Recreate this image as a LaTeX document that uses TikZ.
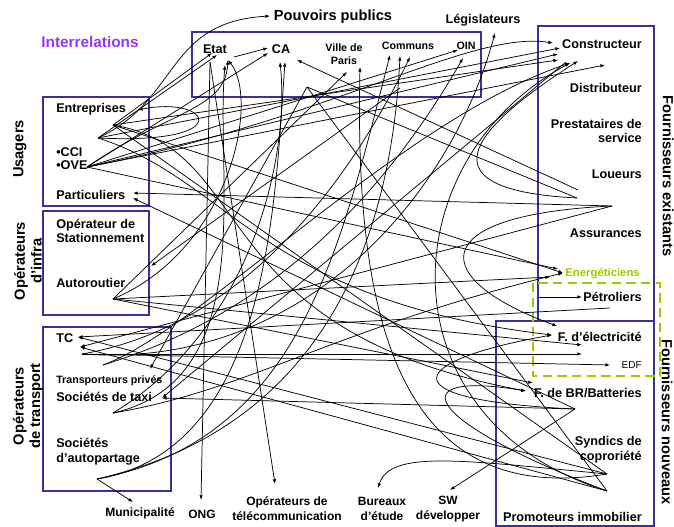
\documentclass[tikz,border=0pt]{standalone}
\usepackage{fontspec}
\setmainfont{Liberation Sans}
\usepackage{tikz}
\usetikzlibrary{arrows.meta}
\definecolor{boxblue}{RGB}{51,51,153}
\definecolor{lilac}{RGB}{153,51,255}
\definecolor{lime}{RGB}{153,204,0}
\begin{document}
\begin{tikzpicture}
[x=0.75pt,y=-0.75pt]
\tikzstyle{lab}=[font=\bfseries\fontsize{9.5}{11}\selectfont,inner sep=0]
\tikzstyle{sml}=[font=\bfseries\fontsize{8}{9.5}\selectfont,inner sep=0]
\tikzstyle{bot}=[font=\bfseries\fontsize{9}{11.2}\selectfont,inner sep=0,align=center]
\tikzstyle{grp}=[font=\bfseries\fontsize{11}{12.5}\selectfont,inner sep=0,align=center]
\tikzstyle{frame}=[draw=boxblue,line width=1.3pt]
\tikzstyle{conn}=[line width=0.55pt,-{Latex[length=3.5pt,width=2.6pt]}]
\tikzstyle{link}=[line width=0.55pt]
\useasboundingbox (0,0) rectangle (674,527);

% frames
\draw[frame] (192,32) rectangle (481,97);
\draw[frame] (43,97) rectangle (149,206);
\draw[frame] (43,211) rectangle (149,315);
\draw[frame] (43,327) rectangle (171,491);
\draw[frame] (538,26) rectangle (654,321);
\draw[frame] (496,321) rectangle (654,526);
\draw[draw=lime,line width=1.3pt,dash pattern=on 7pt off 4pt] (533,283) rectangle (660,376);

% titles
\node[grp,text=lilac,font=\bfseries\fontsize{11.5}{13}\selectfont] (inter) at (90,42) {Interrelations};
\node[grp] (pouv) at (333,17) {Pouvoirs publics};
\node[lab] (legis) at (483,20) {Législateurs};
\node[grp,rotate=90] (usag) at (20,149) {Usagers};
\node[grp,rotate=90] (infra) at (28,261) {Opérateurs\\d'infra};
\node[grp,rotate=90] (transp) at (28,406) {Opérateurs\\de transport};
\node[grp,rotate=-90] (exist) at (668,176) {Fournisseurs existants};
\node[grp,rotate=-90] (nouv) at (667,422) {Fournisseurs nouveaux};

% pouvoirs publics
\node[lab] (etat) at (215,49) {Etat};
\node[lab] (ca) at (281,49) {CA};
\node[sml,align=center] (ville) at (344,54) {Ville de\\Paris};
\node[sml] (communs) at (408,46) {Communs};
\node[sml] (oin) at (466,46) {OIN};

% usagers, infra, transport
\node[lab,anchor=west] (entr) at (56,109) {Entreprises};
\node[lab,anchor=west] (cci) at (56,152) {•CCI};
\node[lab,anchor=west] (ove) at (56,165) {•OVE};
\node[lab,anchor=west] (part) at (56,195) {Particuliers};
\node[lab,anchor=west,align=left] (stat) at (56,231) {Opérateur de\\Stationnement};
\node[lab,anchor=west] (auto) at (56,283) {Autoroutier};
\node[lab,anchor=west] (tc) at (56,338) {TC};
\node[sml,anchor=west] (trpriv) at (56,381) {Transporteurs privés};
\node[lab,anchor=west] (taxi) at (56,397) {Sociétés de taxi};
\node[lab,anchor=west,align=left] (autop) at (56,452) {Sociétés\\d'autopartage};

% fournisseurs
\node[lab,anchor=east] (constr) at (642,44) {Constructeur};
\node[lab,anchor=east] (distr) at (642,88) {Distributeur};
\node[lab,anchor=east,align=right] (prest) at (642,131) {Prestataires de\\service};
\node[lab,anchor=east] (loueurs) at (642,174) {Loueurs};
\node[lab,anchor=east] (assur) at (642,233) {Assurances};
\node[sml,anchor=east,text=lime,font=\bfseries\fontsize{8.5}{10}\selectfont] (energ) at (640,274) {Energéticiens};
\node[lab,anchor=east] (petrol) at (642,297) {Pétroliers};
\node[lab,anchor=east] (felec) at (642,337) {F. d'électricité};
\node[font=\fontsize{7.5}{9}\selectfont,inner sep=0,anchor=east] (edf) at (642,365) {EDF};
\node[lab,anchor=east] (fbr) at (642,393) {F. de BR/Batteries};
\node[lab,anchor=east,align=right] (synd) at (642,450) {Syndics de\\coproriété};
\node[lab,anchor=east] (promo) at (642,517) {Promoteurs immobilier};

% bas
\node[bot] (muni) at (140,513) {Municipalité};
\node[bot] (ong) at (202,514) {ONG};
\node[bot] (tele) at (287,509) {Opérateurs de\\télécommunication};
\node[bot] (bure) at (382,509) {Bureaux\\d'étude};
\node[bot] (sw) at (448,509) {SW\\développer};

% points de depart
\coordinate (hA) at (113,125);
\coordinate (hB) at (98,138);
\coordinate (hC) at (87,167);
\coordinate (hD) at (113,299);
\coordinate (hT) at (82,354);
\coordinate (hU) at (103,365);
\coordinate (hX) at (113,413);
\coordinate (hP) at (97,479);
\coordinate (hV) at (307,87);
\coordinate (hM) at (400,88);
\coordinate (hG) at (210,62);
\coordinate (hE) at (234,57);
\coordinate (hK) at (566,62);
\coordinate (hS) at (612,206);
\coordinate (hL1) at (578,190);
\coordinate (hL2) at (577,198);
\coordinate (hPe) at (610,308);
\coordinate (hPt) at (539,297);
\coordinate (hBR) at (575,409);
\coordinate (hSy) at (607,474);
\coordinate (hPr) at (607,491);

% points d'arrivee
\coordinate (tPo) at (270,16);
\coordinate (tE1) at (212,53);
\coordinate (tE2) at (217,55);
\coordinate (tE3) at (225,65);
\coordinate (tE4) at (228,60);
\coordinate (tC1) at (268,48);
\coordinate (tC2) at (268,53);
\coordinate (tC3) at (280,62);
\coordinate (tC4) at (285,62);
\coordinate (tC5) at (297,60);
\coordinate (tV1) at (347,72);
\coordinate (tV2) at (360,67);
\coordinate (tCo1) at (390,55);
\coordinate (tCo2) at (400,56);
\coordinate (tCo3) at (410,57);
\coordinate (tO1) at (458,50);
\coordinate (tO2) at (463,58);
\coordinate (tLe) at (495,33);
\coordinate (tK1) at (553,43);
\coordinate (tK2) at (560,48);
\coordinate (tK3) at (558,54);
\coordinate (tK4) at (558,60);
\coordinate (tK5) at (570,63);
\coordinate (tK6) at (578,61);
\coordinate (tK7) at (605,65);
\coordinate (tEn) at (138,110);
\coordinate (tPa1) at (133,193);
\coordinate (tPa2) at (133,198);
\coordinate (tSt) at (151,266);
\coordinate (tTC1) at (78,337);
\coordinate (tTC2) at (80,347);
\coordinate (tTr) at (150,369);
\coordinate (tTx) at (162,398);
\coordinate (tMu) at (133,502);
\coordinate (tONG) at (201,500);
\coordinate (tTel) at (275,484);
\coordinate (tBu) at (378,488);
\coordinate (tSW) at (450,490);
\coordinate (tEg1) at (563,273);
\coordinate (tEg2) at (558,269);
\coordinate (tEg3) at (550,277);
\coordinate (tPt) at (582,297);
\coordinate (tF1) at (557,326);
\coordinate (tF2) at (552,335);
\coordinate (tF3) at (582,345);
\coordinate (tF4) at (582,354);
\coordinate (tEDF) at (610,365);
\coordinate (tB1) at (533,383);
\coordinate (tB2) at (526,391);

% liens
\draw[conn] (hB) .. controls (180,100) and (165,22) .. (tPo);
\draw[conn] (hA) -- (tE1);
\draw[conn] (hB) -- (tE2);
\draw[conn] (hC) .. controls (170,110) and (225,110) .. (tE4);
\draw[conn] (hC) -- (tC2);
\draw[conn] (hE) -- (tC1);
\draw[conn] (hB) -- (tK2);
\draw[conn] (hA) -- (tK4);
\draw[conn] (hC) -- (tK3);
\draw[conn] (hC) -- (tK7);
\draw[conn] (hC) .. controls (330,120) and (470,30) .. (tK1);
\draw[conn] (hC) -- (tO1);
\draw[conn] (hC) -- (tEg2);
\draw[conn] (hA) -- (tEg1);
\draw[conn] (hB) .. controls (240,145) and (210,95) .. (tEn);
\draw[conn] (hS) -- (tPa1);
\draw[conn] (hBR) -- (tPa2);
\draw[conn] (hM) -- (tSt);
\draw[conn] (hG) -- (tONG);
\draw[conn] (hG) -- (tTel);
\draw[conn] (hX) .. controls (260,380) and (215,180) .. (tE3);
\draw[conn] (hX) .. controls (250,330) and (290,160) .. (tC3);
\draw[conn] (hP) .. controls (270,450) and (275,200) .. (tC4);
\draw[conn] (hP) .. controls (300,440) and (340,250) .. (tCo1);
\draw[conn] (hP) .. controls (310,430) and (390,260) .. (tCo2);
\draw[conn] (hT) .. controls (220,330) and (330,220) .. (tCo3);
\draw[conn] (hU) .. controls (250,320) and (370,220) .. (tO2);
\draw[conn] (hD) -- (tV1);
\draw[conn] (hSy) .. controls (390,510) and (355,300) .. (tV2);
\draw[conn] (hT) .. controls (300,370) and (450,200) .. (tLe);
\draw[conn] (hD) -- (tEg3);
\draw[conn] (hD) -- (tB1);
\draw[conn] (hD) -- (tF3);
\draw[conn] (hT) -- (tEDF);
\draw[conn] (hT) -- (tF4);
\draw[conn] (hBR) -- (tTx);
\draw[conn] (hBR) -- (tSW);
\draw[conn] (hL1) -- (tC5);
\draw[link] (hV) -- (hL2);
\draw[conn] (hL2) .. controls (420,190) and (470,130) .. (tK6);
\draw[conn] (hS) .. controls (420,215) and (430,280) .. (tF1);
\draw[conn] (hPr) .. controls (380,420) and (390,160) .. (tK5);
\draw[conn] (hSy) .. controls (460,460) and (390,450) .. (tBu);
\draw[conn] (hP) -- (tMu);
\draw[conn] (hSy) -- (tTC1);
\draw[conn] (hPr) -- (tTC2);
\draw[conn] (hS) -- (tTC2);
\draw[conn] (hPe) -- (tTC1);
\draw[conn] (hV) -- (tTr);
\draw[conn] (hK) -- (tTx);
\draw[conn] (hPt) -- (tPt);
\draw[conn] (hBR) .. controls (380,400) and (410,360) .. (tF2);
\draw[conn] (hPr) .. controls (420,420) and (400,370) .. (tB2);
\draw[conn] (hX) .. controls (250,390) and (330,330) .. (tEg1);
\draw[conn] (hU) .. controls (200,330) and (400,120) .. (tK5);
\draw[conn] (hA) .. controls (260,150) and (200,330) .. (tB2);
\draw[conn] (hB) .. controls (230,180) and (260,300) .. (tF2);
\draw[conn] (hD) .. controls (230,250) and (260,100) .. (tE4);
\draw[link] (hPr) -- (hV);
\draw[link] (hSy) -- (hA);
\end{tikzpicture}
\end{document}
